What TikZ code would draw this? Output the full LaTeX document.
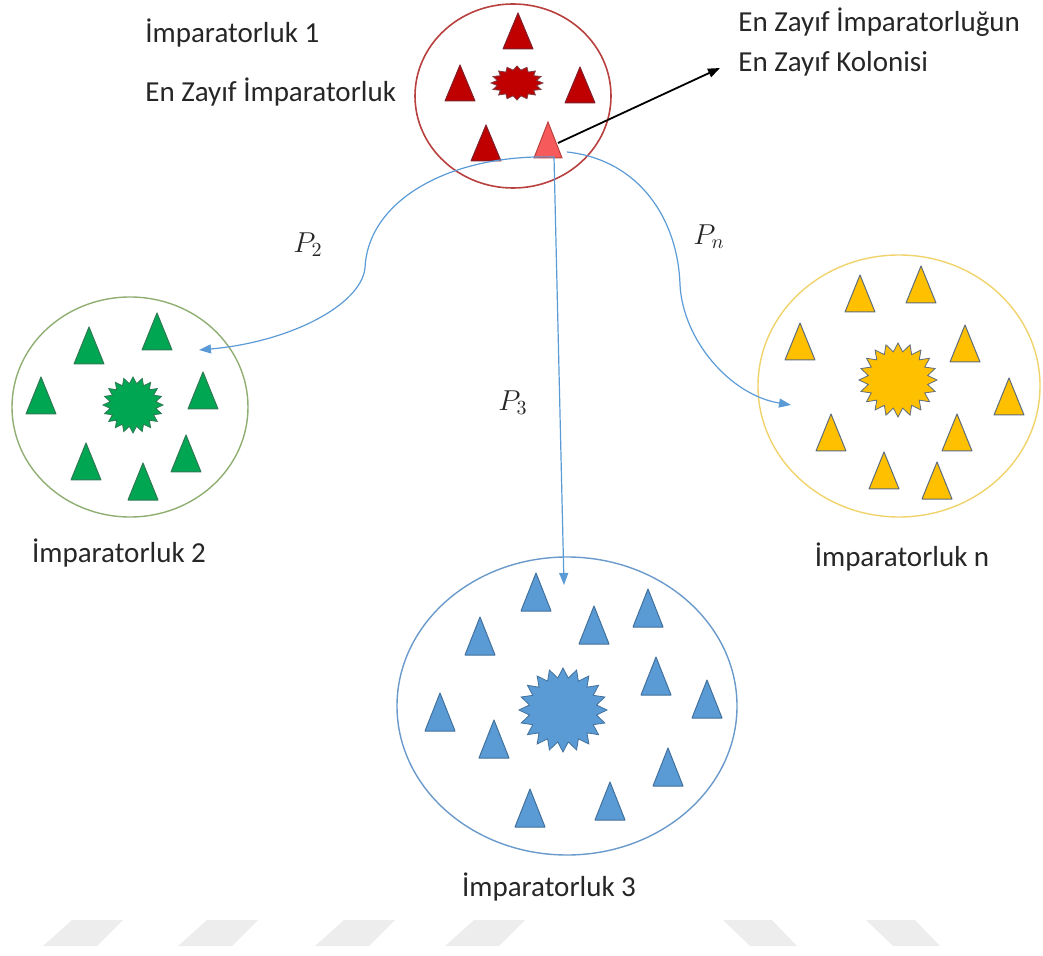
\documentclass[tikz,border=0pt]{standalone}
\usepackage{fontspec}
\setmainfont{Carlito}
\usetikzlibrary{arrows.meta}

\definecolor{redline}{HTML}{B8403F}
\definecolor{redfill}{HTML}{C00000}
\definecolor{rededge}{HTML}{7E1F2A}
\definecolor{weakfill}{HTML}{F75A5A}
\definecolor{greenline}{HTML}{8FAE72}
\definecolor{greenfill}{HTML}{00A651}
\definecolor{greenedge}{HTML}{2F7A55}
\definecolor{goldline}{HTML}{F0D36A}
\definecolor{goldfill}{HTML}{FFC000}
\definecolor{goldedge}{HTML}{5E6C7C}
\definecolor{blueline}{HTML}{6A9ACB}
\definecolor{bluefill}{HTML}{5B9BD5}
\definecolor{blueedge}{HTML}{41719C}
\definecolor{textgrey}{HTML}{262626}

% sun: centre x, centre y, radius x, radius y, vertices, style
\newcommand{\sunstar}[6]{%
  \draw[#6] (#1+#3,#2) \foreach \k in {1,...,#5} {
    -- ({#1+#3*(1-0.23*mod(\k,2))*cos(\k*360/#5)}, {#2+#4*(1-0.23*mod(\k,2))*sin(\k*360/#5)})
  } -- cycle;}

\begin{document}
\begin{tikzpicture}[x=0.5pt, y=-0.5pt, >={Triangle[length=6pt, width=4.5pt]},
  every node/.style={font=\fontsize{14.5}{20}\selectfont, text=textgrey, inner sep=0pt}]
  \tikzset{
    trired/.style={fill=redfill, draw=rededge, line width=0.5pt, line join=round},
    trigreen/.style={fill=greenfill, draw=greenedge, line width=0.5pt, line join=round},
    trigold/.style={fill=goldfill, draw=goldedge, line width=0.5pt, line join=round},
    triblue/.style={fill=bluefill, draw=blueedge, line width=0.5pt, line join=round},
    migrate/.style={->, draw=bluefill, line width=0.6pt},
    wmark/.style={fill=black!7}
  }
  \useasboundingbox (0,0) rectangle (1043,956);

  % empires
  \draw[redline, line width=0.8pt] (513,96) ellipse (98 and 92);
  \draw[greenline, line width=0.7pt] (130,407) ellipse (118 and 110);
  \draw[goldline, line width=0.7pt] (899,386) ellipse (141 and 131);
  \draw[blueline, line width=0.7pt] (567,706) ellipse (170 and 149);

  % imperialists
  \sunstar{517}{83}{26}{17}{32}{fill=redfill, draw=rededge!70!gray, line width=0.4pt}
  \sunstar{133}{405}{30}{28}{40}{fill=greenfill, draw=greenedge, line width=0.4pt}
  \sunstar{898}{380}{39}{37}{40}{fill=goldfill, draw=goldedge, line width=0.4pt}
  \sunstar{563}{710}{44}{42}{40}{fill=bluefill, draw=blueedge, line width=0.4pt}

  % colonies
  \foreach \x/\y in {518/13, 460/65, 580/67, 486/125}
    \draw[trired] (\x,\y) -- ++(-15,36) -- ++(30,0) -- cycle;
  \draw[fill=weakfill, draw=redline, line width=0.5pt] (548,122) -- ++(-14,36) -- ++(28,0) -- cycle;
  \foreach \x/\y in {89/327, 157/313, 41/377, 203/372, 86/443, 186/435, 143/463}
    \draw[trigreen] (\x,\y) -- ++(-15,37) -- ++(30,0) -- cycle;
  \foreach \x/\y in {860/275, 921/266, 800/323, 965/325, 1009/378, 831/414, 957/414, 884/452, 937/462}
    \draw[trigold] (\x,\y) -- ++(-15,37) -- ++(30,0) -- cycle;
  \foreach \x/\y in {536/573, 480/617, 594/606, 648/589, 656/657, 707/680, 440/693, 494/720, 668/748, 530/789, 610/782}
    \draw[triblue] (\x,\y) -- ++(-15,38) -- ++(30,0) -- cycle;

  % labels
  \node[anchor=west] (emp1lbl) at (145,33) {İmparatorluk 1};
  \node[anchor=west] (weaklbl) at (145,92) {En Zayıf İmparatorluk};
  \node[anchor=west, align=left] (colonylbl) at (738,42) {En Zayıf İmparatorluğun\\En Zayıf Kolonisi};
  \node (emp2lbl) at (119,553) {İmparatorluk 2};
  \node (emplbln) at (902,557) {İmparatorluk n};
  \node (emp3lbl) at (549,887) {İmparatorluk 3};
  \node (p2lbl) at (308,245) {$P_2$};
  \node (p3lbl) at (513,403) {$P_3$};
  \node (pnlbl) at (709,237) {$P_n$};

  % weakest colony and its moves
  \coordinate (weakbase) at (554,157);
  \coordinate (weakright) at (558,143);
  \coordinate (colonytip) at (720,68);
  \coordinate (p2end) at (199,350);
  \coordinate (p3end) at (564,585);
  \coordinate (pnend) at (791,405);
  \draw[->, line width=0.9pt] (weakright) -- (colonytip);
  \draw[migrate] (weakbase) .. controls (450,154) and (368,200) .. (365,268)
    .. controls (361,305) and (290,342) .. (p2end);
  \draw[migrate] (weakbase) -- (p3end);
  \draw[migrate] (567,152) .. controls (640,160) and (678,220) .. (680,285)
    .. controls (683,340) and (730,395) .. (pnend);

  % watermark
  \foreach \x in {43,178,315,445}
    \fill[wmark] (\x,946) -- ++(54,0) -- ++(26,-26) -- ++(-51,0) -- cycle;
  \foreach \x in {750,893}
    \fill[wmark] (\x,946) -- ++(47,0) -- ++(-25,-26) -- ++(-49,0) -- cycle;
\end{tikzpicture}
\end{document}
